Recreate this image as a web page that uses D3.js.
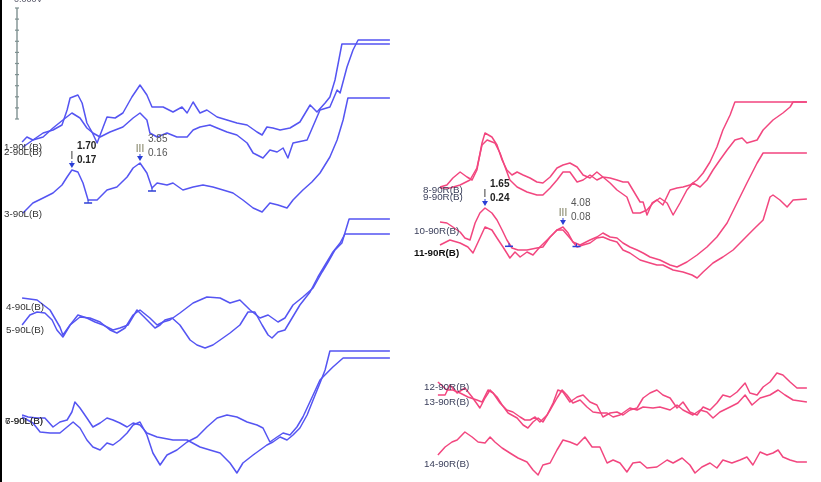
<!DOCTYPE html>
<html><head><meta charset="utf-8">
<script src="https://cdn.jsdelivr.net/npm/d3@7"></script>
<style>body{margin:0;background:#fff}svg{display:block}</style>
</head><body>
<svg id="chart" width="821" height="482"></svg>
<script>
// ---------------- DATA (time in ms, amplitude in µV) ----------------
const traceNames = ["1-90L(B)","2-90L(B)","3-90L(B)","4-90L(B)","5-90L(B)","6-90L(B)","7-90L(B)",
  "8-90R(B)","9-90R(B)","10-90R(B)","11-90R(B)","12-90R(B)","13-90R(B)","14-90R(B)"];
const traceEar = ["L","L","L","L","L","L","L","R","R","R","R","R","R","R"];

const trace1 = [[0.07,0],[0.23,0.05],[0.43,0.02],[0.77,0.09],[1.10,0.12],[1.40,0.17],[1.57,0.32],[1.67,0.44],[1.93,0.47],[2.07,0.39],[2.23,0.19],[2.40,0.10],[2.57,-0.01],[2.90,0.25],[3.17,0.24],[3.43,0.29],[3.73,0.45],[4.00,0.57],[4.23,0.47],[4.40,0.35],[4.77,0.35],[5.10,0.30],[5.40,0.35],[5.57,0.29],[5.77,0.40],[6.00,0.29],[6.23,0.32],[6.57,0.25],[6.90,0.22],[7.23,0.19],[7.57,0.17],[7.90,0.10],[8.07,0.07],[8.23,0.15],[8.43,0.14],[8.67,0.12],[9.00,0.14],[9.33,0.20],[9.67,0.37],[9.90,0.30],[10.17,0.39],[10.33,0.45],[10.50,0.62],[10.73,0.98],[12.33,0.98]];
const trace2 = [[0.10,0],[0.43,0.07],[0.77,0.10],[1.10,0.19],[1.43,0.27],[1.73,0.34],[2.00,0.29],[2.23,0.19],[2.43,0.14],[2.67,0.10],[3.00,0.15],[3.43,0.20],[3.77,0.29],[4.00,0.34],[4.23,0.27],[4.33,0.14],[4.57,0.10],[4.90,0.14],[5.23,0.10],[5.57,0.10],[5.77,0.17],[6.00,0.20],[6.33,0.22],[6.57,0.19],[6.90,0.15],[7.23,0.12],[7.57,0.04],[7.77,-0.06],[8.10,-0.11],[8.33,-0.03],[8.57,-0.05],[8.77,-0.01],[8.93,-0.11],[9.10,0.04],[9.57,0.07],[10.00,0.37],[10.33,0.40],[10.57,0.57],[10.67,0.54],[10.90,0.80],[11.10,0.97],[11.27,1.07],[12.33,1.07]];
const trace3 = [[0.10,0],[0.43,0.10],[0.77,0.15],[1.10,0.20],[1.40,0.28],[1.57,0.36],[1.73,0.43],[1.93,0.41],[2.10,0.30],[2.27,0.13],[2.57,0.13],[2.90,0.23],[3.23,0.26],[3.57,0.36],[3.77,0.45],[4.00,0.50],[4.23,0.40],[4.40,0.25],[4.57,0.30],[4.90,0.28],[5.10,0.30],[5.43,0.23],[5.77,0.26],[6.10,0.28],[6.43,0.26],[6.77,0.23],[7.10,0.20],[7.43,0.13],[7.77,0.05],[8.07,0.01],[8.33,0.10],[8.60,0.08],[8.90,0.05],[9.10,0.13],[9.43,0.23],[9.73,0.31],[10.00,0.40],[10.33,0.56],[10.57,0.73],[10.77,0.93],[10.93,1.15],[12.33,1.15]];
const trace4 = [[0.07,0],[0.57,-0.02],[1.00,-0.12],[1.33,-0.29],[1.43,-0.37],[1.67,-0.27],[2.00,-0.19],[2.33,-0.20],[2.67,-0.24],[3.00,-0.32],[3.23,-0.35],[3.50,-0.30],[3.77,-0.17],[4.00,-0.12],[4.33,-0.20],[4.57,-0.27],[4.77,-0.24],[5.00,-0.22],[5.33,-0.15],[5.77,-0.05],[6.23,0.01],[6.67,0],[7.00,-0.05],[7.33,-0.02],[7.67,-0.12],[8.00,-0.20],[8.27,-0.17],[8.60,-0.24],[8.83,-0.20],[9.10,-0.07],[9.43,0.01],[9.77,0.10],[10.07,0.26],[10.27,0.36],[10.50,0.48],[10.73,0.55],[10.97,0.79],[12.33,0.79]];
const trace5 = [[0.07,0],[0.33,0.10],[0.57,0.13],[0.83,0.12],[1.07,0.05],[1.23,-0.05],[1.43,-0.12],[1.67,0],[1.93,0.10],[2.23,0.07],[2.50,0.03],[2.77,0],[3.10,-0.05],[3.33,-0.03],[3.60,0],[3.90,0.15],[4.17,0.07],[4.50,-0.03],[4.67,0],[4.83,0.05],[5.07,0.07],[5.33,0],[5.67,-0.15],[5.90,-0.20],[6.17,-0.23],[6.43,-0.20],[6.67,-0.15],[7.00,-0.08],[7.33,0],[7.60,0.13],[7.83,0.13],[8.07,0],[8.27,-0.10],[8.40,-0.13],[8.60,-0.07],[8.83,-0.05],[9.07,0.07],[9.33,0.20],[9.67,0.33],[9.93,0.48],[10.17,0.60],[10.43,0.73],[10.67,0.82],[10.83,0.91],[12.33,0.91]];
const trace6 = [[0.07,0],[0.27,-0.02],[0.57,-0.03],[0.83,-0.03],[1.10,-0.12],[1.33,-0.07],[1.57,-0.05],[1.73,0.03],[1.83,0.13],[2.00,0.07],[2.23,-0.03],[2.43,-0.12],[2.67,-0.08],[2.90,-0.03],[3.10,-0.05],[3.33,-0.08],[3.57,-0.12],[3.77,-0.08],[4.00,-0.10],[4.23,-0.18],[4.57,-0.22],[5.10,-0.25],[5.57,-0.25],[6.00,-0.32],[6.33,-0.35],[6.67,-0.38],[7.00,-0.48],[7.23,-0.58],[7.43,-0.48],[7.77,-0.40],[8.00,-0.35],[8.23,-0.30],[8.43,-0.27],[8.67,-0.22],[8.90,-0.25],[9.10,-0.20],[9.33,-0.13],[9.57,0],[9.77,0.15],[10.00,0.32],[10.17,0.45],[10.33,0.64],[12.33,0.64]];
const trace7 = [[0.07,0],[0.43,-0.06],[0.67,-0.15],[1.00,-0.16],[1.33,-0.16],[1.57,-0.10],[1.77,-0.05],[2.00,-0.11],[2.23,-0.23],[2.43,-0.30],[2.67,-0.33],[2.90,-0.26],[3.10,-0.28],[3.33,-0.23],[3.57,-0.16],[3.77,-0.08],[4.00,-0.05],[4.23,-0.18],[4.43,-0.36],[4.67,-0.48],[4.90,-0.38],[5.23,-0.33],[5.57,-0.25],[5.90,-0.20],[6.23,-0.10],[6.57,-0.01],[6.90,0.02],[7.23,0],[7.57,-0.05],[7.90,-0.08],[8.10,-0.11],[8.33,-0.25],[8.57,-0.20],[8.77,-0.16],[9.00,-0.18],[9.23,-0.10],[9.43,0],[9.77,0.22],[10.00,0.37],[10.23,0.44],[10.43,0.50],[10.77,0.59],[12.33,0.59]];
const trace8 = [[0.10,0],[0.33,0.02],[0.53,0.09],[0.77,0.15],[1.00,0.10],[1.17,0.07],[1.33,0.17],[1.50,0.44],[1.60,0.54],[1.83,0.50],[2.00,0.42],[2.17,0.27],[2.33,0.17],[2.50,0.12],[2.67,0.15],[2.87,0.12],[3.10,0.09],[3.33,0.05],[3.53,0.04],[3.77,0.10],[4.00,0.19],[4.20,0.22],[4.43,0.24],[4.67,0.20],[4.87,0.12],[5.10,0.09],[5.33,0.15],[5.53,0.10],[5.77,0.09],[6.00,0.07],[6.20,0.05],[6.37,0.05],[6.53,-0.03],[6.77,-0.15],[6.87,-0.15],[7.00,-0.28],[7.17,-0.16],[7.33,-0.13],[7.53,-0.18],[7.77,-0.03],[8.00,-0.01],[8.20,0],[8.43,0.02],[8.67,0.07],[8.87,0.14],[9.10,0.25],[9.33,0.40],[9.53,0.57],[9.77,0.72],[9.93,0.85],[12.33,0.85]];
const trace9 = [[0.10,0],[0.43,0],[0.77,0.03],[1.10,0.08],[1.33,0.20],[1.50,0.43],[1.67,0.48],[1.93,0.45],[2.10,0.35],[2.27,0.21],[2.43,0.08],[2.67,0.01],[3.00,-0.04],[3.33,-0.07],[3.53,-0.07],[3.77,0],[4.00,0.08],[4.20,0.16],[4.43,0.16],[4.67,0.06],[4.87,0.08],[5.10,0.13],[5.33,0.08],[5.53,0.11],[5.77,0.05],[6.00,-0.02],[6.33,-0.09],[6.53,-0.25],[6.77,-0.25],[7.00,-0.22],[7.20,-0.15],[7.43,-0.10],[7.67,-0.15],[7.87,-0.27],[8.10,-0.15],[8.33,-0.02],[8.53,0.05],[8.77,0.01],[9.00,0.08],[9.20,0.18],[9.43,0.28],[9.67,0.38],[9.93,0.48],[10.17,0.50],[10.33,0.45],[10.67,0.48],[10.87,0.58],[11.20,0.68],[11.53,0.75],[11.77,0.81],[11.87,0.86],[12.33,0.86]];
const trace10 = [[0.10,0],[0.33,-0.01],[0.53,-0.05],[0.77,-0.10],[0.93,-0.16],[1.10,-0.18],[1.27,-0.01],[1.43,0.09],[1.60,0.14],[1.83,0.09],[2.00,0.02],[2.17,-0.08],[2.33,-0.18],[2.50,-0.26],[2.70,-0.28],[3.00,-0.28],[3.33,-0.26],[3.53,-0.25],[3.77,-0.15],[4.00,-0.08],[4.20,-0.05],[4.37,-0.11],[4.53,-0.20],[4.77,-0.23],[5.10,-0.18],[5.33,-0.15],[5.53,-0.11],[5.77,-0.15],[6.00,-0.16],[6.20,-0.21],[6.43,-0.25],[6.67,-0.28],[6.87,-0.31],[7.10,-0.35],[7.43,-0.38],[7.77,-0.43],[8.00,-0.45],[8.33,-0.40],[8.67,-0.33],[9.00,-0.25],[9.33,-0.15],[9.67,-0.01],[10.00,0.19],[10.33,0.39],[10.67,0.59],[10.87,0.69],[12.33,0.69]];
const trace11 = [[0.10,0],[0.43,0.05],[0.77,0.02],[1.03,-0.02],[1.20,-0.08],[1.37,0.03],[1.60,0.18],[1.83,0.15],[2.00,0.07],[2.20,-0.02],[2.43,-0.13],[2.60,-0.07],[2.77,-0.12],[3.00,-0.07],[3.20,-0.10],[3.43,-0.02],[3.67,0.05],[4.00,0.15],[4.20,0.15],[4.43,0.07],[4.67,-0.02],[4.87,0],[5.10,0.02],[5.33,0.07],[5.53,0.08],[5.77,0.05],[6.00,0.03],[6.20,-0.05],[6.43,-0.08],[6.77,-0.15],[7.10,-0.18],[7.33,-0.20],[7.53,-0.20],[7.87,-0.25],[8.20,-0.27],[8.50,-0.30],[8.67,-0.33],[8.87,-0.27],[9.20,-0.18],[9.53,-0.12],[9.87,-0.05],[10.20,0.05],[10.53,0.15],[10.87,0.25],[11.10,0.48],[11.20,0.50],[11.43,0.45],[11.67,0.38],[11.87,0.45],[12.33,0.46]];
const trace12 = [[0.03,0],[0.33,-0.08],[0.53,-0.08],[0.77,-0.11],[1.03,-0.15],[1.33,-0.18],[1.50,-0.20],[1.70,-0.08],[1.87,-0.11],[2.10,-0.21],[2.33,-0.28],[2.53,-0.30],[2.77,-0.35],[2.93,-0.38],[3.10,-0.38],[3.27,-0.35],[3.43,-0.40],[3.67,-0.33],[3.87,-0.21],[4.03,-0.08],[4.20,-0.10],[4.43,-0.20],[4.67,-0.15],[4.87,-0.13],[5.10,-0.20],[5.33,-0.23],[5.53,-0.35],[5.77,-0.31],[6.00,-0.30],[6.20,-0.33],[6.43,-0.28],[6.67,-0.26],[6.87,-0.16],[7.10,-0.11],[7.33,-0.08],[7.53,-0.13],[7.77,-0.16],[8.00,-0.26],[8.20,-0.20],[8.43,-0.30],[8.67,-0.33],[8.87,-0.25],[9.10,-0.28],[9.33,-0.21],[9.53,-0.13],[9.77,-0.15],[10.00,-0.10],[10.27,-0.01],[10.43,-0.11],[10.67,-0.13],[10.87,-0.05],[11.10,0],[11.33,0.09],[11.53,0.07],[11.77,0],[12.00,-0.06],[12.33,-0.06]];
const trace13 = [[0.03,0],[0.27,0],[0.43,0.10],[0.67,0.02],[0.93,0.07],[1.17,-0.02],[1.43,-0.13],[1.60,-0.03],[1.77,0.05],[2.00,-0.02],[2.17,-0.10],[2.37,-0.18],[2.67,-0.23],[2.87,-0.30],[3.03,-0.33],[3.20,-0.27],[3.37,-0.23],[3.53,-0.27],[3.77,-0.15],[4.00,-0.03],[4.17,0.05],[4.33,0],[4.53,-0.08],[4.77,-0.05],[5.00,-0.12],[5.20,-0.17],[5.43,-0.18],[5.67,-0.18],[5.87,-0.22],[6.10,-0.20],[6.43,-0.13],[6.67,-0.15],[6.87,-0.12],[7.20,-0.13],[7.43,-0.12],[7.77,-0.15],[8.00,-0.10],[8.20,-0.15],[8.53,-0.20],[8.77,-0.15],[9.00,-0.17],[9.20,-0.23],[9.43,-0.17],[9.77,-0.12],[10.03,-0.08],[10.27,0],[10.50,-0.10],[10.77,-0.03],[11.10,0],[11.37,0.05],[11.60,0],[11.87,-0.05],[12.33,-0.07]];
const trace14 = [[0.03,0],[0.27,0.08],[0.50,0.13],[0.67,0.15],[0.93,0.23],[1.17,0.18],[1.37,0.13],[1.60,0.12],[1.77,0.18],[1.93,0.13],[2.17,0.07],[2.43,0.02],[2.70,-0.03],[3.00,-0.07],[3.20,-0.15],[3.37,-0.20],[3.53,-0.10],[3.77,-0.08],[4.00,0.05],[4.20,0.15],[4.43,0.13],[4.67,0.10],[4.93,0.18],[5.17,0.08],[5.43,0.08],[5.67,-0.08],[5.87,-0.05],[6.10,-0.08],[6.33,-0.17],[6.53,-0.08],[6.77,-0.07],[7.00,-0.13],[7.33,-0.12],[7.67,-0.05],[7.87,-0.08],[8.17,-0.03],[8.43,-0.10],[8.60,-0.18],[8.83,-0.12],[9.10,-0.08],[9.33,-0.13],[9.53,-0.05],[9.83,-0.08],[10.10,-0.05],[10.33,-0.02],[10.53,-0.10],[10.77,0.03],[11.00,0],[11.20,0.02],[11.37,0.05],[11.53,-0.02],[11.77,-0.05],[12.00,-0.07],[12.33,-0.07]];
const traces = [trace1,trace2,trace3,trace4,trace5,trace6,trace7,trace8,trace9,trace10,trace11,trace12,trace13,trace14];

// wave markers (peak / trough picks)
const waveLabels = ["I","III","I","III"];
const waveTrace = [3,3,10,10];
const wavePeakMs = [1.73,4.00,1.60,4.20];
const waveTroughMs = [2.27,4.40,2.40,4.65];
const waveLatencyText = ["1.70","3.85","1.65","4.08"];
const waveAmplitudeText = ["0.17","0.16","0.24","0.08"];

// ---------------- LAYOUT ----------------
const W = 821, H = 482;
const svg = d3.select("#chart");
const defs = svg.append("defs");
defs.append("filter").attr("id","soft").attr("x","-5%").attr("y","-5%").attr("width","110%").attr("height","110%")
  .append("feGaussianBlur").attr("stdDeviation",0.35);
const root = svg.append("g").attr("filter","url(#soft)");

const panelRange = { L: [20, 392], R: [437, 809] };
const timeDomain = [0, 12.4];
const xScales = {
  L: d3.scaleLinear().domain(timeDomain).range(panelRange.L),
  R: d3.scaleLinear().domain(timeDomain).range(panelRange.R)
};
const amp = d3.scaleLinear().domain([0, 1]).range([0, -100]); // 100 px per µV
const baselines = [142,147,213,298,325,415,417,187,188,222,245,382,395,455];
const labelPos = [[4,150],[4,155],[4,217],[6,310],[6,333],[5,424],[5,424],
  [423,193],[423,200],[414,234],[414,256],[424,390],[424,405],[424,467]];
const colors = { L: "#5454f2", R: "#f2467f" };
const font = "Liberation Sans, Arial, sans-serif";

// left black border
svg.append("rect").attr("x",0).attr("y",0).attr("width",2).attr("height",H).attr("fill","#000");

// scale bar
const sbX = 17, sbTop = 8, sbDiv = 10, sbDivPx = 11.1;
root.append("line").attr("x1",sbX).attr("x2",sbX).attr("y1",sbTop).attr("y2",sbTop+sbDiv*sbDivPx)
  .attr("stroke","#7e9090").attr("stroke-width",1.4);
d3.range(sbDiv+1).forEach(i => {
  root.append("line").attr("x1",sbX-2).attr("x2",sbX+2)
    .attr("y1",sbTop+i*sbDivPx).attr("y2",sbTop+i*sbDivPx)
    .attr("stroke","#7e9090").attr("stroke-width",1.2);
});
root.append("text").attr("x",14).attr("y",2).attr("font-family",font)
  .attr("font-size",9).attr("fill","#556").text("0.000V");

// traces
traces.forEach((tr, i) => {
  const ear = traceEar[i], xs = xScales[ear], b = baselines[i];
  const line = d3.line().x(d => xs(d[0])).y(d => b + amp(d[1]));
  root.append("path").datum(tr).attr("d", line).attr("fill","none")
    .attr("stroke", colors[ear]).attr("stroke-width",1.5).attr("stroke-linejoin","round");
});

// trace labels
traceNames.forEach((n, i) => {
  root.append("text").attr("x",labelPos[i][0]).attr("y",labelPos[i][1])
    .attr("font-family",font).attr("font-size",9.8)
    .attr("fill", i===10 ? "#111" : (i>=7 ? "#3a3f5a" : "#333")).attr("font-weight", i===10 ? "bold" : "normal")
    .text(n);
});

// helper
function valueAt(tr, t) {
  for (let k = 1; k < tr.length; k++) {
    if (tr[k][0] >= t) {
      const a = tr[k-1], c = tr[k];
      const f = (t - a[0]) / (c[0] - a[0]);
      return a[1] + f * (c[1] - a[1]);
    }
  }
  return tr[tr.length-1][1];
}

// wave markers
const markColor = "#2b3fd6";
waveLabels.forEach((lab, j) => {
  const ti = waveTrace[j] - 1, ear = traceEar[ti], xs = xScales[ear], b = baselines[ti];
  const tr = traces[ti];
  const px = xs(wavePeakMs[j]), py = b + amp(valueAt(tr, wavePeakMs[j]));
  const tip = py - 2;
  root.append("path").attr("d", `M${px-3},${tip-5}L${px+3},${tip-5}L${px},${tip}Z`).attr("fill", markColor);
  root.append("line").attr("x1",px).attr("x2",px).attr("y1",tip-7).attr("y2",tip-4)
    .attr("stroke",markColor).attr("stroke-width",1);
  const tx = xs(waveTroughMs[j]), ty = b + amp(valueAt(tr, waveTroughMs[j])) + 3;
  root.append("line").attr("x1",tx-4).attr("x2",tx+4).attr("y1",ty).attr("y2",ty)
    .attr("stroke",markColor).attr("stroke-width",1.5);
  root.append("line").attr("x1",tx).attr("x2",tx).attr("y1",ty-3).attr("y2",ty)
    .attr("stroke",markColor).attr("stroke-width",1);
  const half = lab === "I" ? 1 : 4;
  root.append("text").attr("x", px).attr("y", tip - 9).attr("text-anchor","middle")
    .attr("font-family",font).attr("font-size",10)
    .attr("fill", lab==="I" ? "#333" : "#7a7a5a").text(lab);
  root.append("text").attr("x", px + half + 4).attr("y", tip - 19)
    .attr("font-family",font).attr("font-size",10).attr("fill", lab==="I" ? "#222" : "#555")
    .attr("font-weight", lab==="I" ? "bold" : "normal").text(waveLatencyText[j]);
  root.append("text").attr("x", px + half + 4).attr("y", tip - 5)
    .attr("font-family",font).attr("font-size",10).attr("fill", lab==="I" ? "#222" : "#555")
    .attr("font-weight", lab==="I" ? "bold" : "normal").text(waveAmplitudeText[j]);
});
</script>
</body></html>
